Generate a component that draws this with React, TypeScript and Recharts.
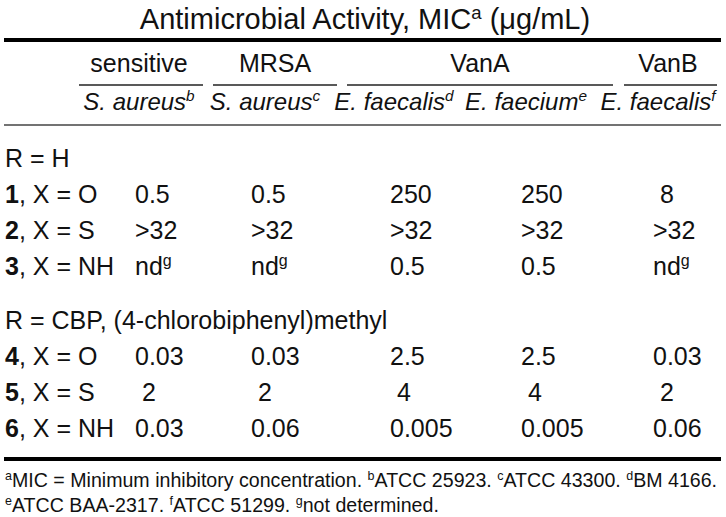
import React from 'react';
import { ScatterChart, Scatter, XAxis, YAxis, ReferenceLine } from 'recharts';

// ---------------- data ----------------
const TITLE = 'Antimicrobial Activity, MIC^a (\u03bcg/mL)';
const GROUPS = ['sensitive', 'MRSA', 'VanA', 'VanB'];
const STRAINS = ['S. aureus^b', 'S. aureus^c', 'E. faecalis^d', 'E. faecium^e', 'E. faecalis^f'];
const SECTIONS = ['R = H', 'R = CBP, (4-chlorobiphenyl)methyl'];
const COMPOUNDS = ['1', '2', '3', '4', '5', '6'];
const LINKERS = ['O', 'S', 'NH', 'O', 'S', 'NH'];
const MIC_SA_SENSITIVE = ['0.5', '>32', 'nd^g', '0.03', '2', '0.03'];
const MIC_SA_MRSA = ['0.5', '>32', 'nd^g', '0.03', '2', '0.06'];
const MIC_EFS_VANA = ['250', '>32', '0.5', '2.5', '4', '0.005'];
const MIC_EFM_VANA = ['250', '>32', '0.5', '2.5', '4', '0.005'];
const MIC_EFS_VANB = ['8', '>32', 'nd^g', '0.03', '2', '0.06'];
const MIC_COLUMNS = [MIC_SA_SENSITIVE, MIC_SA_MRSA, MIC_EFS_VANA, MIC_EFM_VANA, MIC_EFS_VANB];
const FOOTNOTES = [
  '^aMIC = Minimum inhibitory concentration. ^bATCC 25923. ^cATCC 43300. ^dBM 4166.',
  '^eATCC BAA-2317. ^fATCC 51299. ^gnot determined.',
];

// ---------------- layout ----------------
const W = 726;
const H = 517;
const FONT = '"Liberation Sans", Arial, Helvetica, sans-serif';
const BODY = 25;
const STRAIN_SIZE = 24;
const TITLE_SIZE = 29;
const NOTE = 19.6;
const TITLE_POS = { x: 365, y: 29 };
const GROUP_CENTER = [139, 275, 480, 668];
const GROUP_RULE: [number, number][] = [[79, 203], [213, 337], [347, 613], [624, 717]];
const STRAIN_CENTER = [139, 265, 394, 526, 658];
const COL_LEFT = [135, 251, 390, 521, 653];
const LABEL_LEFT = 5;
const GROUP_BASE = 72;
const STRAIN_BASE = 110;
const RULE_Y = 85;
const SECTION_BASE = [167, 329];
const ROW_BASE = [203, 239, 275, 365, 401, 437];
const NOTE_BASE = [487, 512];
const TOP_RULE = 40;
const MID_RULE = 125;
const BOTTOM_RULE = 459;

type Seg = { t: string; sup?: boolean; bold?: boolean };
function parseRich(s: string): Seg[] {
  const segs: Seg[] = [];
  let buf = '';
  let bold = false;
  let i = 0;
  while (i < s.length) {
    if (s.startsWith('**', i)) {
      if (buf) segs.push({ t: buf, bold });
      buf = '';
      bold = !bold;
      i += 2;
      continue;
    }
    if (s[i] === '^') {
      if (buf) segs.push({ t: buf, bold });
      buf = '';
      segs.push({ t: s[i + 1], sup: true, bold });
      i += 2;
      continue;
    }
    buf += s[i];
    i += 1;
  }
  if (buf) segs.push({ t: buf, bold });
  return segs;
}

type Item = {
  x: number;
  y: number;
  text: string;
  anchor?: 'start' | 'middle' | 'end';
  size?: number;
  italic?: boolean;
};

const RichText = (props: any) => {
  const { cx, cy, payload } = props;
  if (cx == null || cy == null || !payload) return null;
  const p = payload as Item;
  const size = p.size ?? BODY;
  const segs = parseRich(p.text);
  const shift = size * 0.36;
  return (
    <text
      x={cx}
      y={cy}
      textAnchor={p.anchor ?? 'start'}
      fontFamily={FONT}
      fontSize={size}
      fontStyle={p.italic ? 'italic' : 'normal'}
      fill="#111"
      style={{ whiteSpace: 'pre' }}
    >
      {segs.map((sg, k) => {
        const prevSup = k > 0 && segs[k - 1].sup;
        let dy = 0;
        if (sg.sup && !prevSup) dy = -shift;
        else if (!sg.sup && prevSup) dy = shift;
        return (
          <tspan
            key={k}
            dy={dy || undefined}
            fontSize={sg.sup ? size * 0.64 : undefined}
            fontWeight={sg.bold ? 'bold' : undefined}
          >
            {sg.t}
          </tspan>
        );
      })}
    </text>
  );
};

const pad = (v: string) => (v.length === 1 ? '\u00a0' + v : v);

const titleItems: Item[] = [{ x: TITLE_POS.x, y: TITLE_POS.y, text: TITLE, anchor: 'middle', size: TITLE_SIZE }];
const groupItems: Item[] = GROUPS.map((g, i) => ({ x: GROUP_CENTER[i], y: GROUP_BASE, text: g, anchor: 'middle' }));
const strainItems: Item[] = STRAINS.map((s, i) => ({
  x: STRAIN_CENTER[i],
  y: STRAIN_BASE,
  text: s,
  anchor: 'middle',
  italic: true,
  size: STRAIN_SIZE,
}));
const sectionItems: Item[] = SECTIONS.map((s, i) => ({ x: LABEL_LEFT, y: SECTION_BASE[i], text: s }));
const labelItems: Item[] = COMPOUNDS.map((c, i) => ({ x: LABEL_LEFT, y: ROW_BASE[i], text: `**${c}**, X = ${LINKERS[i]}` }));
const valueSeries: Item[][] = MIC_COLUMNS.map((col, j) =>
  col.map((v, i) => ({ x: COL_LEFT[j], y: ROW_BASE[i], text: pad(v) }))
);
const noteItems: Item[] = FOOTNOTES.map((n, i) => ({ x: LABEL_LEFT, y: NOTE_BASE[i], text: n, size: NOTE }));

export default function App() {
  return (
    <div style={{ position: 'absolute', left: 0, top: 0, width: W, height: H, background: '#fff' }}>
      <ScatterChart width={W} height={H} margin={{ top: 0, right: 0, bottom: 0, left: 0 }}>
        <XAxis type="number" dataKey="x" domain={[0, W]} hide />
        <YAxis type="number" dataKey="y" domain={[0, H]} reversed hide />
        <ReferenceLine segment={[{ x: 4, y: TOP_RULE }, { x: 721, y: TOP_RULE }]} stroke="#000" strokeWidth={4} />
        {GROUP_RULE.map(([a, b], i) => (
          <ReferenceLine key={i} segment={[{ x: a, y: RULE_Y }, { x: b, y: RULE_Y }]} stroke="#222" strokeWidth={1.5} />
        ))}
        <ReferenceLine segment={[{ x: 4, y: MID_RULE }, { x: 721, y: MID_RULE }]} stroke="#444" strokeWidth={1.5} />
        <ReferenceLine segment={[{ x: 4, y: BOTTOM_RULE }, { x: 721, y: BOTTOM_RULE }]} stroke="#000" strokeWidth={4} />
        <Scatter name="title" data={titleItems} shape={RichText} isAnimationActive={false} />
        <Scatter name="groups" data={groupItems} shape={RichText} isAnimationActive={false} />
        <Scatter name="strains" data={strainItems} shape={RichText} isAnimationActive={false} />
        <Scatter name="sections" data={sectionItems} shape={RichText} isAnimationActive={false} />
        <Scatter name="compounds" data={labelItems} shape={RichText} isAnimationActive={false} />
        {valueSeries.map((s, j) => (
          <Scatter key={j} name={STRAINS[j]} data={s} shape={RichText} isAnimationActive={false} />
        ))}
        <Scatter name="notes" data={noteItems} shape={RichText} isAnimationActive={false} />
      </ScatterChart>
    </div>
  );
}
